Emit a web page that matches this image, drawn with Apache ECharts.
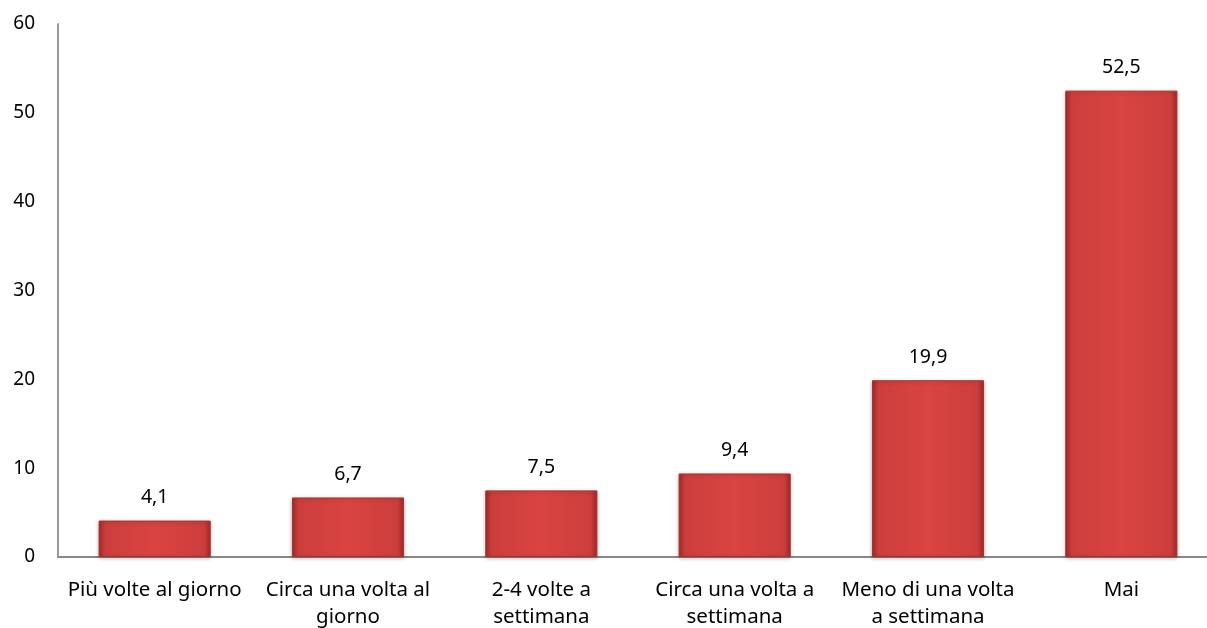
<!DOCTYPE html>
<html><head><meta charset="utf-8">
<script src="https://cdn.jsdelivr.net/npm/echarts@6/dist/echarts.min.js"></script>
<style>html,body{margin:0;padding:0;background:#fff}#c{width:1207px;height:628px}</style>
</head><body><div id="c"></div>
<script>
const categories = ["Più volte al giorno", "Circa una volta al\ngiorno", "2-4 volte a\nsettimana", "Circa una volta a\nsettimana", "Meno di una volta\na settimana", "Mai"];
const values = [4.1, 6.7, 7.5, 9.4, 19.9, 52.5];
const yTicks = [0, 10, 20, 30, 40, 50, 60];

const chart = echarts.init(document.getElementById('c'));
const font = 'Noto Sans';
chart.setOption({
  animation: false,
  grid: { left: 58, right: -11, top: 24, bottom: 71, outerBoundsMode: 'none', containLabel: false },
  xAxis: {
    type: 'category', data: categories,
    axisLine: { lineStyle: { color: '#888', width: 2 } },
    axisTick: { show: false },
    axisLabel: { color: '#000', fontFamily: font, fontSize: 20.5, lineHeight: 27, margin: 20, interval: 0 }
  },
  yAxis: {
    type: 'value', min: 0, max: 60, interval: 10,
    axisLine: { show: true, lineStyle: { color: '#999', width: 2 } },
    axisTick: { show: false },
    splitLine: { show: false },
    axisLabel: { color: '#000', fontFamily: font, fontSize: 19, margin: 23,
      formatter: v => yTicks.includes(v) ? String(v) : '' }
  },
  series: [{
    type: 'bar', data: values, barWidth: '58%',
    itemStyle: {
      color: new echarts.graphic.LinearGradient(0, 0, 1, 0, [
        { offset: 0, color: '#a12a2a' },
        { offset: 0.06, color: '#cc3e3c' },
        { offset: 0.5, color: '#da4442' },
        { offset: 0.94, color: '#cc3e3c' },
        { offset: 1, color: '#a12a2a' }
      ]),
      borderColor: '#a63030', borderWidth: 1,
      shadowColor: 'rgba(0,0,0,0.25)', shadowBlur: 4, shadowOffsetY: 1
    },
    label: { show: true, position: 'top', distance: 13, color: '#000', fontFamily: font, fontSize: 19.5,
      formatter: p => String(p.value).replace('.', ',') }
  }]
});
</script></body></html>
